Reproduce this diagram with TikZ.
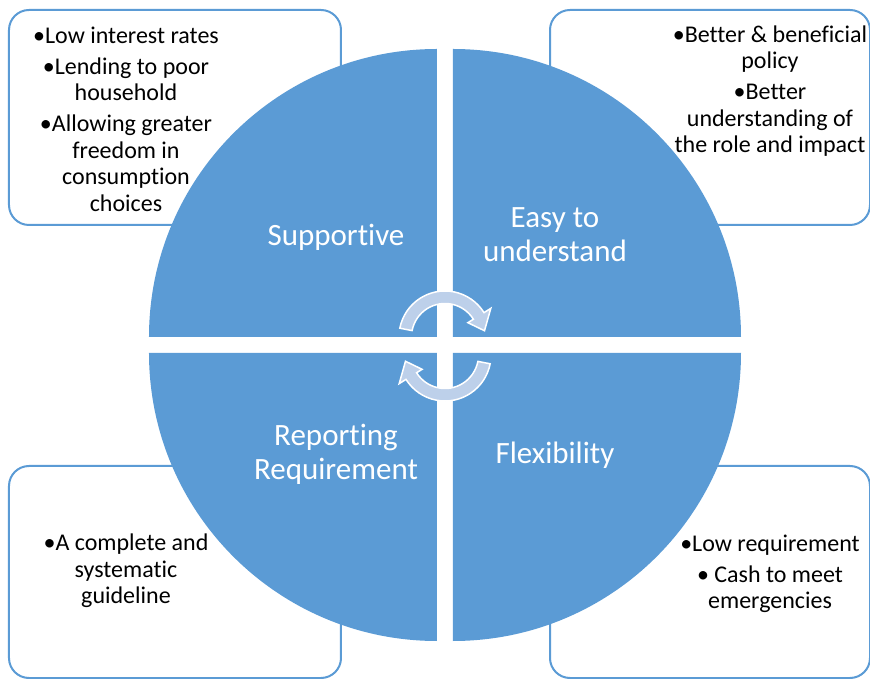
\documentclass[tikz,border=0pt]{standalone}
\usepackage{fontspec}
\setmainfont{Carlito}[Ligatures={NoCommon}]
\definecolor{segblue}{RGB}{91,155,213}
\definecolor{arrowblue}{RGB}{189,208,234}
\tikzset{
  sector/.style={fill=segblue},
  note/.style={draw=segblue, line width=2pt, rounded corners=20pt},
  notetext/.style={align=center, inner sep=0pt, font=\fontsize{24}{26.5}\selectfont},
  segtext/.style={align=center, inner sep=0pt, text=white, font=\fontsize{31}{34}\selectfont},
  cyc/.style={fill=arrowblue, draw=white, line width=1.5pt}
}

\begin{document}
\begin{tikzpicture}[x=1pt, y=1pt]
\useasboundingbox (-445,-334) rectangle (425,345);

% rounded boxes behind the circle
\draw[note] (-436,335) rectangle (-104,120);
\draw[note] (105,335) rectangle (425,120);
\draw[note] (-436,-121) rectangle (-104,-333);
\draw[note] (105,-121) rectangle (425,-333);

% four quarter discs
\fill[sector] (8,8) -- ++(288,0) arc[start angle=0, end angle=90, radius=288pt] -- cycle;
\fill[sector] (-8,8) -- ++(0,288) arc[start angle=90, end angle=180, radius=288pt] -- cycle;
\fill[sector] (-8,-8) -- ++(-288,0) arc[start angle=180, end angle=270, radius=288pt] -- cycle;
\fill[sector] (8,-8) -- ++(0,-288) arc[start angle=270, end angle=360, radius=288pt] -- cycle;

\node[segtext] (S) at (-109,108) {Supportive};
\node[segtext] (E) at (110,110) {Easy to\\understand};
\node[segtext] (R) at (-109,-109) {Reporting\\Requirement};
\node[segtext] (F) at (110,-110) {Flexibility};

\node[notetext] (SN) at (-319,226) {\textbullet Low interest rates\\[4.5pt]
  \textbullet Lending to poor\\household\\[4.5pt]
  \textbullet Allowing greater\\freedom in\\consumption\\choices};
\node[notetext] (EN) at (325,254) {\textbullet Better \& beneficial\\policy\\[4.5pt]
  \textbullet Better\\understanding of\\the role and impact};
\node[notetext] (RN) at (-319,-226) {\textbullet A complete and\\systematic\\guideline};
\node[notetext] (FN) at (325,-229) {\textbullet Low requirement\\[4.5pt]
  \textbullet\ Cash to meet\\emergencies};

% circular arrows in the middle
\path[cyc, shift={(0,8)}] (169:46pt) arc[start angle=169, end angle=32, radius=46pt]
  -- (32:54pt) -- (9:40pt) -- (32:27pt) -- (32:33.5pt)
  arc[start angle=32, end angle=169, radius=33.5pt] -- cycle;
\path[cyc, shift={(0,-10)}, rotate=180] (169:46pt) arc[start angle=169, end angle=32, radius=46pt]
  -- (32:54pt) -- (9:40pt) -- (32:27pt) -- (32:33.5pt)
  arc[start angle=32, end angle=169, radius=33.5pt] -- cycle;
\end{tikzpicture}
\end{document}
